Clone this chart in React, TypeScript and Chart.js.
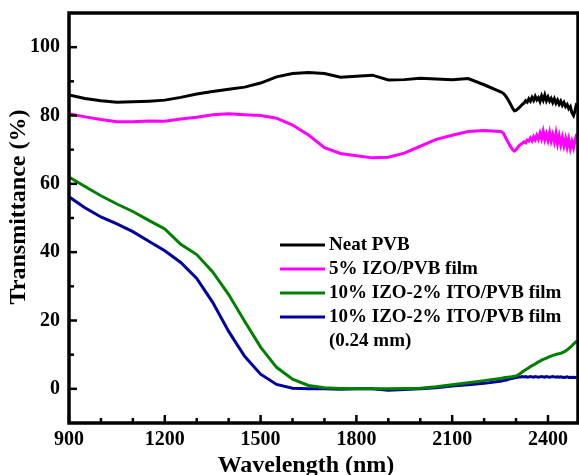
import { useEffect, useRef } from 'react';
import { Chart, registerables } from 'chart.js';

Chart.register(...registerables);

// ---------------- data ----------------
const wavelengths = [
  900, 950, 1000, 1050, 1100, 1150, 1200, 1250, 1300, 1350, 1400, 1450, 1500, 1550, 1600, 1650, 1700,
  1750, 1800, 1850, 1900, 1950, 2000, 2050, 2100, 2150, 2200, 2250,
  2255, 2260, 2265, 2270, 2275, 2280, 2285, 2290, 2295, 2300, 2305, 2310, 2315, 2320, 2325, 2330,
  2335, 2340, 2345, 2350, 2355, 2360, 2365, 2370, 2375, 2380, 2385, 2390, 2395, 2400, 2405, 2410,
  2415, 2420, 2425, 2430, 2435, 2440, 2445, 2450, 2455, 2460, 2465, 2470, 2475, 2480, 2485, 2490,
];

const neatPVB = [
  86.0, 85.0, 84.3, 83.9, 84.0, 84.2, 84.5, 85.3, 86.3, 87.0, 87.7, 88.3, 89.5, 91.3, 92.3, 92.6, 92.3,
  91.2, 91.5, 91.8, 90.4, 90.5, 90.9, 90.7, 90.5, 90.8, 89.0, 87.0,
  86.8, 86.5, 86.0, 85.4, 84.6, 83.8, 82.9, 82.0, 81.4, 81.5, 81.9, 82.3, 82.8, 83.3, 83.6, 84.3,
  83.9, 84.9, 84.2, 85.3, 84.4, 85.6, 84.6, 85.2, 84.1, 85.7, 84.5, 86.0, 84.3, 85.4, 84.2, 85.0,
  83.8, 84.9, 83.6, 84.5, 83.3, 84.2, 83.0, 83.8, 82.6, 83.2, 82.0, 82.6, 80.8, 80.0, 81.5, 83.6,
];

const izo5PVB = [
  80.5, 79.6, 78.8, 78.2, 78.2, 78.4, 78.3, 79.0, 79.5, 80.2, 80.5, 80.2, 80.0, 79.2, 77.2, 74.3, 70.6,
  68.9, 68.2, 67.6, 67.8, 69.0, 71.0, 73.0, 74.2, 75.3, 75.6, 75.3,
  75.2, 74.8, 74.0, 73.0, 72.2, 71.4, 70.6, 69.9, 69.6, 70.0, 70.6, 71.2, 71.6, 71.9, 72.3, 72.0,
  72.8, 72.5, 73.4, 72.6, 73.8, 72.9, 74.2, 73.1, 74.8, 73.2, 75.3, 73.0, 74.6, 72.8, 75.0, 72.6,
  74.4, 72.3, 74.8, 71.8, 74.0, 71.5, 73.6, 71.2, 73.2, 70.8, 73.0, 70.4, 72.4, 70.6, 72.8, 74.6,
];

const izoItoPVB = [
  62.0, 59.2, 56.5, 54.1, 51.9, 49.3, 46.8, 42.3, 39.3, 34.2, 27.6, 19.8, 12.2, 6.3, 2.8, 1.0, 0.3,
  0.1, 0.0, 0.0, 0.0, 0.1, 0.2, 0.6, 1.2, 1.8, 2.4, 3.0,
  3.1, 3.2, 3.3, 3.3, 3.4, 3.5, 3.5, 3.6, 3.7, 3.8, 4.0, 4.3, 4.6, 5.0, 5.3, 5.6,
  5.9, 6.2, 6.5, 6.8, 7.0, 7.3, 7.6, 7.9, 8.1, 8.4, 8.6, 8.8, 9.0, 9.2, 9.4, 9.6,
  9.8, 9.9, 10.1, 10.2, 10.3, 10.4, 10.6, 10.8, 11.1, 11.4, 11.8, 12.2, 12.6, 13.1, 13.5, 14.0,
];

const izoItoPVB024 = [
  56.2, 53.0, 50.3, 48.3, 46.0, 43.2, 40.4, 37.0, 32.3, 25.3, 16.8, 9.5, 4.3, 1.3, 0.2, 0.0, 0.0,
  -0.1, 0.0, 0.0, -0.4, -0.2, 0.0, 0.3, 0.8, 1.2, 1.6, 2.2,
  2.3, 2.4, 2.5, 2.6, 2.8, 2.9, 3.0, 3.1, 3.2, 3.3, 3.4, 3.5, 3.5, 3.6, 3.5, 3.6,
  3.4, 3.5, 3.6, 3.5, 3.4, 3.6, 3.5, 3.4, 3.5, 3.6, 3.5, 3.4, 3.6, 3.5, 3.4, 3.5,
  3.6, 3.5, 3.4, 3.5, 3.4, 3.5, 3.4, 3.3, 3.4, 3.5, 3.3, 3.4, 3.3, 3.4, 3.3, 3.3,
];

const seriesLabels = [
  'Neat PVB',
  '5% IZO/PVB film',
  '10% IZO-2% ITO/PVB film',
  '10% IZO-2% ITO/PVB film (0.24 mm)',
];
const legendLines = [
  ['Neat PVB'],
  ['5% IZO/PVB film'],
  ['10% IZO-2% ITO/PVB film'],
  ['10% IZO-2% ITO/PVB film', '(0.24 mm)'],
];
const seriesColors = ['#000000', '#FF00FF', '#008000', '#0000A0'];

const xTickLabels = [900, 1200, 1500, 1800, 2100, 2400];
const xMinorTicks = [1000, 1100, 1300, 1400, 1600, 1700, 1900, 2000, 2200, 2300];
const yTickLabels = [0, 20, 40, 60, 80, 100];
const yMinorTicks = [10, 30, 50, 70, 90];
const xTitle = 'Wavelength (nm)';
const yTitle = 'Transmittance (%)';

const FONT = '"Liberation Serif", "Times New Roman", serif';

const framePlugin = {
  id: 'framePlugin',
  afterDraw(chart: any) {
    const { ctx, chartArea: a, scales } = chart;
    const xs = scales.x;
    const ys = scales.y;
    ctx.save();
    ctx.strokeStyle = '#000';
    ctx.lineCap = 'butt';
    ctx.lineWidth = 2.5;
    // inward ticks x
    [...xTickLabels, ...xMinorTicks].forEach((v) => {
      const px = xs.getPixelForValue(v);
      const len = xTickLabels.includes(v) ? 8 : 5;
      ctx.beginPath();
      ctx.moveTo(px, a.bottom);
      ctx.lineTo(px, a.bottom - len);
      ctx.stroke();
    });
    // inward ticks y
    [...yTickLabels, ...yMinorTicks].forEach((v) => {
      const py = ys.getPixelForValue(v);
      const len = yTickLabels.includes(v) ? 8 : 5;
      ctx.beginPath();
      ctx.moveTo(a.left, py);
      ctx.lineTo(a.left + len, py);
      ctx.stroke();
    });
    // frame
    ctx.lineWidth = 3.5;
    ctx.strokeRect(a.left, a.top, a.right - a.left, a.bottom - a.top);

    // axis titles
    ctx.fillStyle = '#000';
    ctx.font = `bold 24px ${FONT}`;
    ctx.textAlign = 'center';
    ctx.textBaseline = 'alphabetic';
    ctx.fillText(xTitle, 306, 472);
    ctx.save();
    ctx.translate(25, 207);
    ctx.rotate(-Math.PI / 2);
    ctx.fillText(yTitle, 0, 0);
    ctx.restore();

    // legend
    const rows = [245, 269, 293, 317];
    ctx.font = `bold 19px ${FONT}`;
    ctx.textAlign = 'left';
    ctx.textBaseline = 'middle';
    legendLines.forEach((lines, i) => {
      const y = rows[i];
      ctx.strokeStyle = seriesColors[i];
      ctx.lineWidth = 3;
      ctx.beginPath();
      ctx.moveTo(280, y);
      ctx.lineTo(325, y);
      ctx.stroke();
      lines.forEach((txt, j) => {
        ctx.fillText(txt, 329, y + j * 24);
      });
    });
    ctx.restore();
  },
};

export default function App() {
  const ref = useRef<HTMLCanvasElement | null>(null);
  useEffect(() => {
    document.body.style.margin = '0';
    const canvas = ref.current;
    if (!canvas) return;
    const series = [neatPVB, izo5PVB, izoItoPVB, izoItoPVB024];
    const chart = new Chart(canvas, {
      type: 'line',
      data: {
        datasets: series.map((vals, i) => ({
          label: seriesLabels[i],
          data: wavelengths.map((w, k) => ({ x: w, y: vals[k] })),
          borderColor: seriesColors[i],
          backgroundColor: seriesColors[i],
          borderWidth: 3,
          pointRadius: 0,
          tension: 0,
          fill: false,
        })),
      },
      options: {
        animation: false,
        responsive: false,
        devicePixelRatio: 1,
        layout: { padding: { top: 13, right: 1, left: 0, bottom: 0 } },
        plugins: { legend: { display: false }, tooltip: { enabled: false } },
        scales: {
          x: {
            type: 'linear',
            min: 900,
            max: 2494,
            grid: { display: false, drawTicks: false },
            border: { display: false },
            afterBuildTicks: (s: any) => {
              s.ticks = xTickLabels.map((v) => ({ value: v }));
            },
            ticks: {
              autoSkip: false,
              maxRotation: 0,
              minRotation: 0,
              padding: 5,
              color: '#000',
              font: { family: FONT, size: 20, weight: 'bold' },
              callback: (v: any) => String(v),
            },
            afterFit: (s: any) => {
              s.height = 52;
              s.paddingLeft = 0;
              s.paddingRight = 0;
            },
          },
          y: {
            type: 'linear',
            min: -10,
            max: 110,
            grid: { display: false, drawTicks: false },
            border: { display: false },
            afterBuildTicks: (s: any) => {
              s.ticks = yTickLabels.map((v) => ({ value: v }));
            },
            ticks: {
              autoSkip: false,
              padding: 9,
              color: '#000',
              font: { family: FONT, size: 20, weight: 'bold' },
              callback: (v: any) => String(v),
            },
            afterFit: (s: any) => {
              s.width = 69;
              s.paddingTop = 0;
              s.paddingBottom = 0;
            },
          },
        },
      },
      plugins: [framePlugin],
    } as any);
    return () => chart.destroy();
  }, []);
  return <canvas ref={ref} width={579} height={475} style={{ display: 'block' }} />;
}
